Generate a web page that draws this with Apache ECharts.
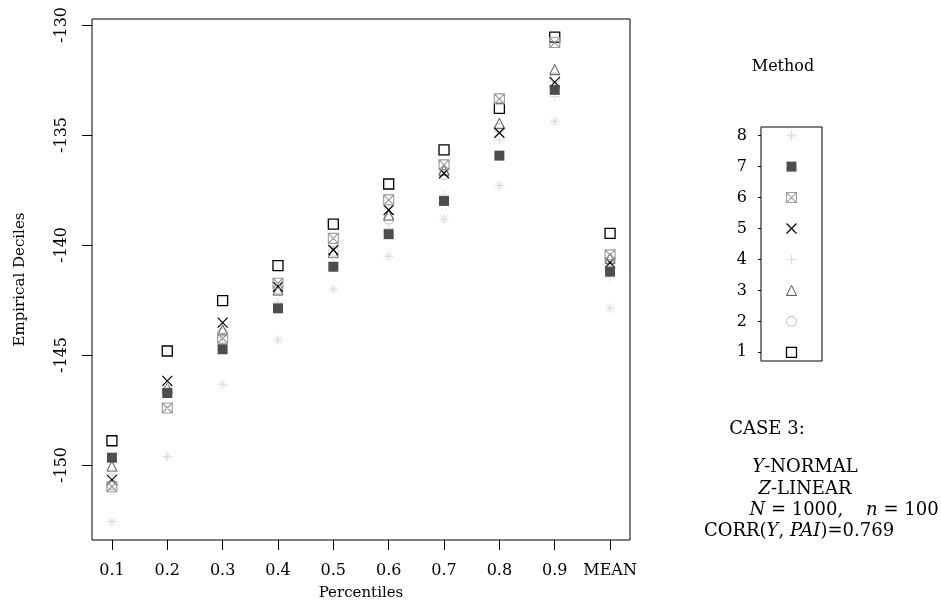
<!DOCTYPE html>
<html>
<head>
<meta charset="utf-8">
<script src="https://cdn.jsdelivr.net/npm/echarts@6/dist/echarts.min.js"></script>
<style>html,body{margin:0;padding:0;background:#fff}#c{width:941px;height:608px}</style>
</head>
<body>
<div id="c"></div>
<script>
// ---- data ----
const categories = ['0.1','0.2','0.3','0.4','0.5','0.6','0.7','0.8','0.9','MEAN'];
const yTicks = [-150, -145, -140, -135, -130];
const methods = [1, 2, 3, 4, 5, 6, 7, 8];
const m1 = [-148.90, -144.82, -142.53, -140.94, -139.05, -137.23, -135.68, -133.79, -130.55, -139.47];
const m2 = [-150.90, -146.60, -144.00, -142.00, -140.30, -138.83, -136.80, -134.70, -132.40, -140.70];
const m3 = [-150.05, -146.50, -143.86, -142.05, -140.35, -138.64, -136.60, -134.47, -132.03, -140.60];
const m4 = [-150.40, -146.40, -144.50, -142.60, -140.60, -139.25, -137.73, -135.23, -133.26, -141.45];
const m5 = [-150.68, -146.18, -143.53, -141.90, -140.23, -138.41, -136.74, -134.90, -132.60, -140.80];
const m6 = [-150.99, -147.41, -144.24, -141.74, -139.70, -137.95, -136.36, -133.36, -130.80, -140.45];
const m7 = [-149.67, -146.73, -144.74, -142.88, -140.99, -139.51, -138.00, -135.94, -132.95, -141.21];
const m8 = [-152.58, -149.62, -146.33, -144.32, -142.00, -140.53, -138.82, -137.30, -134.38, -142.88];
const seriesValues = [m1, m2, m3, m4, m5, m6, m7, m8];

// ---- styles ----
const FONT = '"DejaVu Serif", "Liberation Serif", serif';
const P_SQ = 'path://M0,0L10,0L10,10L0,10Z';
const P_X = 'path://M0,0L10,10M10,0L0,10';
const P_PLUS = 'path://M5,0L5,10M0,5L10,5';
const P_AST = 'path://M5,0L5,10M0,5L10,5M1.5,1.5L8.5,8.5M8.5,1.5L1.5,8.5';
const P_BOXX = 'path://M0,0L10,0L10,10L0,10ZM0,0L10,10M10,0L0,10';
const styles = [
  {symbol:P_SQ, size:10, fill:'none', stroke:'#000000', lw:1.3},
  {symbol:'circle', size:10, fill:'none', stroke:'#bdbdbd', lw:1},
  {symbol:'triangle', size:10, fill:'none', stroke:'#505050', lw:1},
  {symbol:P_PLUS, size:10, fill:'none', stroke:'#dcdcdc', lw:1},
  {symbol:P_X, size:10, fill:'none', stroke:'#000000', lw:1.2},
  {symbol:P_BOXX, size:10, fill:'none', stroke:'#9a9a9a', lw:1.1},
  {symbol:'rect', size:10, fill:'#4d4d4d', stroke:'#4d4d4d', lw:0},
  {symbol:P_AST, size:10, fill:'none', stroke:'#dcdcdc', lw:1}
];

const series = [];
seriesValues.forEach((vals, i) => {
  const s = styles[i];
  series.push({
    type:'scatter', xAxisIndex:0, yAxisIndex:0,
    symbol:s.symbol, symbolSize:s.size,
    itemStyle:{color:s.fill, borderColor:s.stroke, borderWidth:s.lw, opacity:1},
    data: vals.map((v, j) => [j + 1, v]),
    silent:true, animation:false
  });
});
// legend key: one series, one styled item per method
series.push({
  type:'scatter', xAxisIndex:1, yAxisIndex:1, silent:true, animation:false,
  data: methods.map((m, i) => ({
    value:[1, m], symbol:styles[i].symbol, symbolSize:styles[i].size,
    itemStyle:{color:styles[i].fill, borderColor:styles[i].stroke, borderWidth:styles[i].lw, opacity:1}
  }))
});

const chart = echarts.init(document.getElementById('c'), null, {renderer:'canvas'});
const txt = {fontFamily:FONT, fontSize:16, color:'#000'};
const nameTxt = {fontFamily:FONT, fontSize:15, color:'#000'};
const rt = {fontFamily:FONT, fontSize:18, fontStyle:'italic'};
const BIG = '18px ' + FONT;
chart.setOption({
  animation:false,
  backgroundColor:'#fff',
  grid:[
    {left:92, top:19, width:538, height:521, show:true, borderColor:'#000', borderWidth:1, backgroundColor:'transparent'},
    {left:761, top:127, width:61, height:234, show:true, borderColor:'#000', borderWidth:1, backgroundColor:'transparent'}
  ],
  xAxis:[
    {type:'value', gridIndex:0, min:0.64, max:10.36,
     axisLine:{show:false, onZero:false}, splitLine:{show:false},
     axisTick:{show:true, length:10, customValues:[1,2,3,4,5,6,7,8,9,10], lineStyle:{color:'#000'}},
     axisLabel:{show:true, margin:23, customValues:[1,2,3,4,5,6,7,8,9,10],
       formatter:(v)=>categories[Math.round(v)-1] || '', ...txt},
     name:'Percentiles', nameLocation:'middle', nameGap:46, nameTextStyle:nameTxt},
    {type:'value', gridIndex:1, min:0, max:2, show:false}
  ],
  yAxis:[
    {type:'value', gridIndex:0, min:-153.41, max:-129.73,
     axisLine:{show:false, onZero:false}, splitLine:{show:false},
     axisTick:{show:true, length:10, customValues:yTicks, lineStyle:{color:'#000'}},
     axisLabel:{show:true, rotate:90, margin:22, customValues:yTicks, ...txt},
     name:'Empirical Deciles', nameLocation:'middle', nameGap:64, nameTextStyle:nameTxt},
    {type:'value', gridIndex:1, min:0.72, max:8.28,
     axisLine:{show:false, onZero:false}, splitLine:{show:false},
     axisTick:{show:true, length:3, customValues:[1,2,3,4,5,6,7,8], lineStyle:{color:'#000'}},
     axisLabel:{show:true, margin:14, customValues:[1,2,3,4,5,6,7,8], ...txt}}
  ],
  graphic:[
    {type:'text', x:783, y:67, style:{text:'Method', font:'16px '+FONT, fill:'#000', textAlign:'center', textVerticalAlign:'middle'}},
    {type:'text', x:767, y:429, style:{text:'CASE 3:', font:BIG, fill:'#000', textAlign:'center', textVerticalAlign:'middle'}},
    {type:'text', x:805, y:467, style:{text:'{i|Y}-NORMAL', font:BIG, fill:'#000', textAlign:'center', textVerticalAlign:'middle', rich:{i:rt}}},
    {type:'text', x:805, y:489, style:{text:'{i|Z}-LINEAR', font:BIG, fill:'#000', textAlign:'center', textVerticalAlign:'middle', rich:{i:rt}}},
    {type:'text', x:844, y:510, style:{text:'{i|N} = 1000,    {i|n} = 100', font:BIG, fill:'#000', textAlign:'center', textVerticalAlign:'middle', rich:{i:rt}}},
    {type:'text', x:799, y:531, style:{text:'CORR({i|Y}, {i|PAI})=0.769', font:BIG, fill:'#000', textAlign:'center', textVerticalAlign:'middle', rich:{i:rt}}}
  ],
  series: series
});
</script>
</body>
</html>
